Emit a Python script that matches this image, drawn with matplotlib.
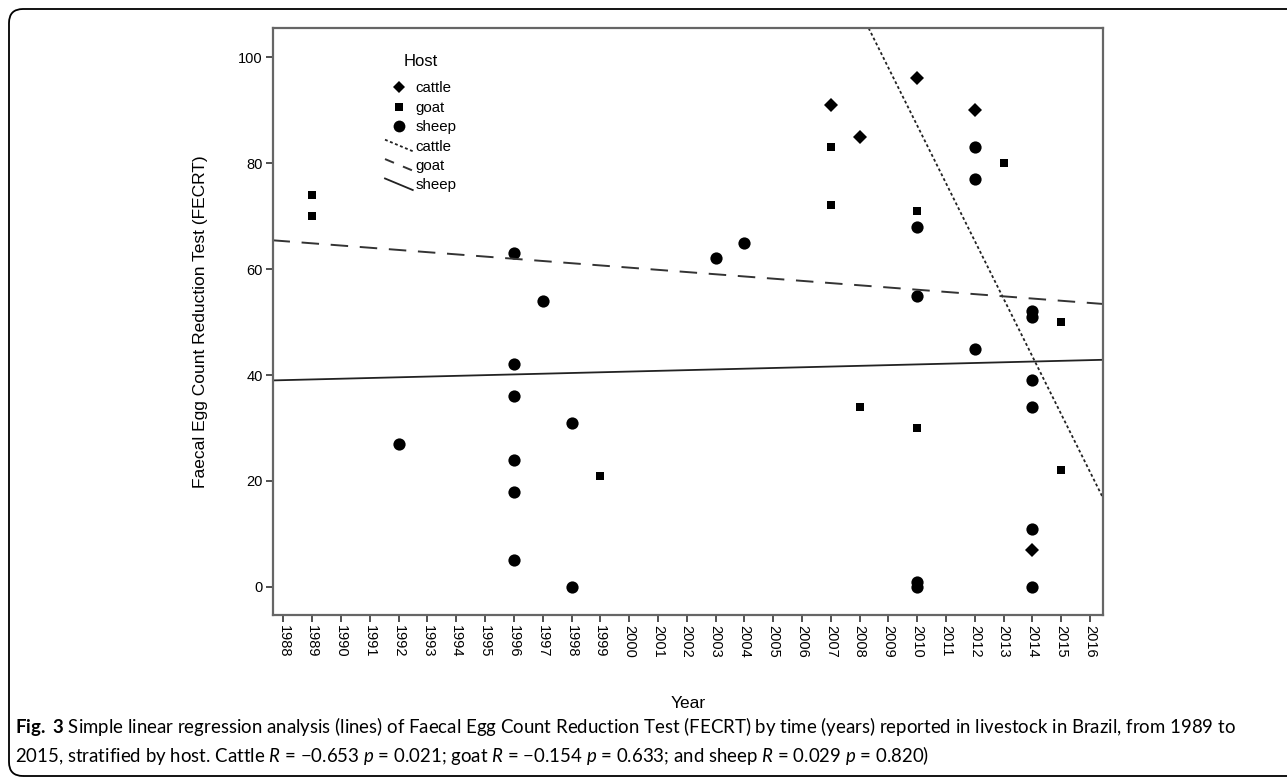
import numpy as np
import matplotlib
matplotlib.use('Agg')
import matplotlib.pyplot as plt
from matplotlib.lines import Line2D
from matplotlib.legend_handler import HandlerLine2D
from matplotlib.patches import FancyBboxPatch
from matplotlib.transforms import IdentityTransform

plt.rcParams['font.family'] = ['Liberation Sans', 'DejaVu Sans']
plt.rcParams['mathtext.fontset'] = 'custom'
plt.rcParams['mathtext.rm'] = 'Lato'
plt.rcParams['mathtext.it'] = 'Lato:italic'
plt.rcParams['mathtext.bf'] = 'Lato:bold'

# points
cattle_years = [2007, 2008, 2010, 2012, 2014]
cattle_fecrt = [91, 85, 96, 90, 7]
goat_years = [1989, 1989, 1999, 2007, 2007, 2008, 2010, 2010, 2013, 2015, 2015]
goat_fecrt = [74, 70, 21, 83, 72, 34, 71, 30, 80, 50, 22]
sheep_years = [1992, 1996, 1996, 1996, 1996, 1996, 1996, 1997, 1998, 1998,
               2003, 2004, 2010, 2010, 2010, 2010, 2012, 2012, 2012,
               2014, 2014, 2014, 2014, 2014, 2014]
sheep_fecrt = [27, 63, 42, 36, 24, 18, 5, 54, 31, 0,
               62, 65, 68, 55, 1, 0, 83, 77, 45,
               52, 51, 39, 34, 11, 0]

# regression lines (value at 2010 and slope per year)
hosts = ['cattle', 'goat', 'sheep']
fit_at_2010 = [87.1, 56.1, 42.0]
fit_slope = [-10.9, -0.417, 0.135]

year_ticks = list(range(1988, 2017))
fecrt_ticks = [0, 20, 40, 60, 80, 100]

caption1 = (r'$\mathbf{Fig.\ 3}$ Simple linear regression analysis (lines) of Faecal Egg Count '
            'Reduction Test (FECRT) by time (years) reported in livestock in Brazil, from 1989 to')
caption2 = ('2015, stratified by host. Cattle $R$ = \u22120.653 $p$ = 0.021; goat $R$ = \u22120.154 '
            '$p$ = 0.633; and sheep $R$ = 0.029 $p$ = 0.820)')


class SlantLine(HandlerLine2D):
    def create_artists(self, legend, orig_handle, xdescent, ydescent,
                       width, height, fontsize, trans):
        x0, x1 = -xdescent, -xdescent + width
        y0, y1 = -ydescent + height * 1.05, -ydescent - height * 0.05
        ln = Line2D([x0, x1], [y0, y1])
        self.update_prop(ln, orig_handle, legend)
        ln.set_transform(trans)
        return [ln]


fig = plt.figure(figsize=(12.87, 7.78), dpi=100)
ax = fig.add_axes([272.5 / 1287, 1 - 615 / 778, (1103 - 272.5) / 1287, (615 - 28) / 778])

ax.plot(cattle_years, cattle_fecrt, 'D', color='black', ms=7, mew=0)
ax.plot(goat_years, goat_fecrt, 's', color='black', ms=6, mew=0)
ax.plot(sheep_years, sheep_fecrt, 'o', color='black', ms=8.8, mew=0)

ax.set_xlim(1987.62, 2016.45)
ax.set_ylim(-5.3, 105.5)

styles = [dict(ls=(0, (1.6, 1.4)), lw=1.3, color='#222222'),
          dict(ls=(0, (9, 6)), lw=1.4, color='#333333'),
          dict(ls='-', lw=1.3, color='#222222')]
xs = np.array(ax.get_xlim())
for v, s, st in zip(fit_at_2010, fit_slope, styles):
    ax.plot(xs, v + s * (xs - 2010), **st)

ax.set_xticks(year_ticks)
ax.set_xticklabels([str(y) for y in year_ticks], rotation=-90, fontsize=10.5)
ax.set_yticks(fecrt_ticks)
ax.set_yticklabels([str(v) for v in fecrt_ticks], fontsize=10.5)
ax.tick_params(direction='out', length=5, width=1.2, color='#333333', pad=2)
for sp in ax.spines.values():
    sp.set_color('#666666')
    sp.set_linewidth(1.6)

ax.set_xlabel('Year', fontsize=12.5, labelpad=28)
ax.set_ylabel('Faecal Egg Count Reduction Test (FECRT)', fontsize=12.5, labelpad=22)

handles = [Line2D([], [], ls='', marker='D', color='black', ms=6.5, mew=0),
           Line2D([], [], ls='', marker='s', color='black', ms=5.5, mew=0),
           Line2D([], [], ls='', marker='o', color='black', ms=8.5, mew=0),
           Line2D([], [], **styles[0]),
           Line2D([], [], ls=(0, (5, 5)), lw=1.4, color='#333333'),
           Line2D([], [], **styles[2])]
labels = hosts + hosts
leg = ax.legend(handles, labels, title='Host', loc='upper left',
                bbox_to_anchor=(385 / 1287, 1 - 54 / 778), bbox_transform=fig.transFigure,
                frameon=False, fontsize=10.8, title_fontsize=12, handlelength=1.85,
                handletextpad=0.2, labelspacing=0.36, borderpad=0, borderaxespad=0,
                handler_map={h: SlantLine() for h in handles[3:]})
leg._legend_box.sep = 9

fig.text(15 / 1287, 1 - 733 / 778, caption1, fontsize=13.4, family='Lato')
fig.text(15 / 1287, 1 - 762 / 778, caption2, fontsize=13.4, family='Lato')

frame = FancyBboxPatch((9, 2), 1300, 767, boxstyle='round,pad=0,rounding_size=14',
                       transform=IdentityTransform(), fill=False, ec='black', lw=1.3)
fig.add_artist(frame)

fig.savefig('out.png', dpi=100)
